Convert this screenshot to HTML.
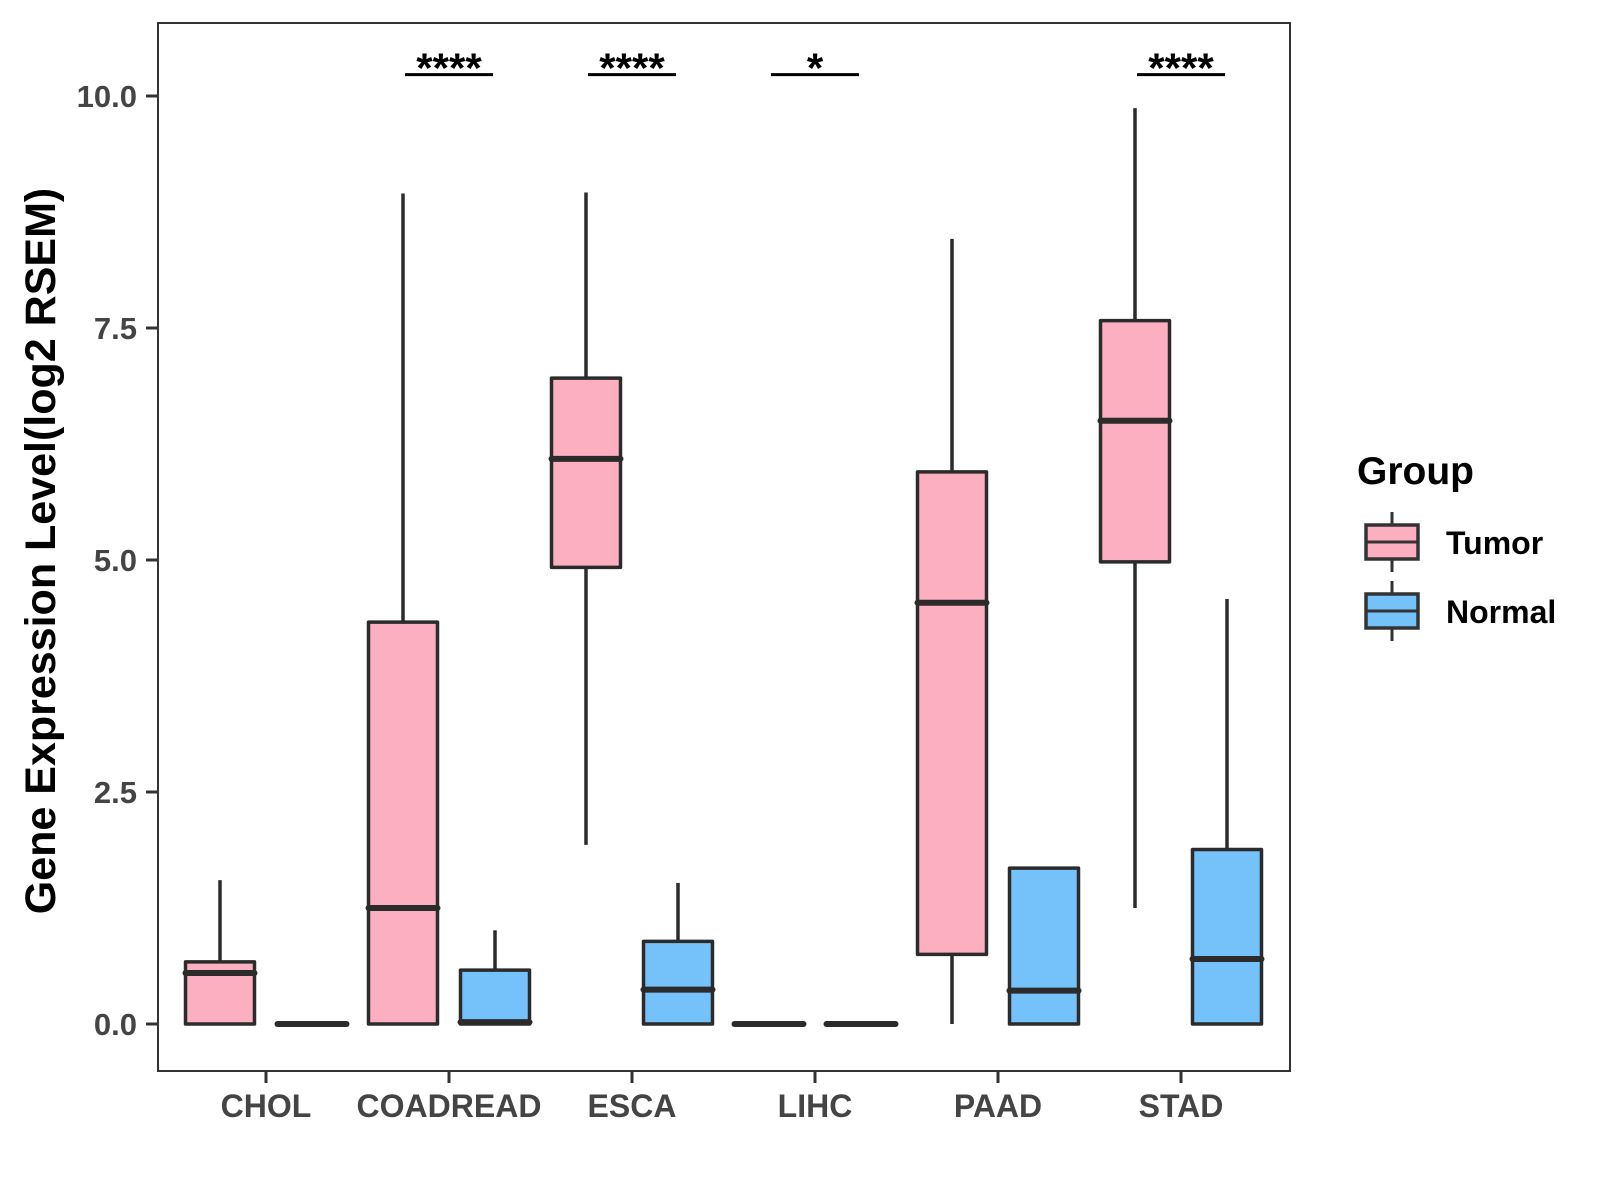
<!DOCTYPE html>
<html><head><meta charset="utf-8"><style>
body{margin:0;background:#fff}
svg{display:block;font-family:"Liberation Sans",Arial,sans-serif}
</style></head><body>
<svg id="chart" width="1600" height="1200" viewBox="0 0 1600 1200">
<rect x="158" y="23" width="1132" height="1048" fill="#fff" stroke="#333" stroke-width="2"/>
<g id="marks"></g>
<text transform="translate(55,551) rotate(-90)" text-anchor="middle" font-size="43" font-weight="bold" fill="#000">Gene Expression Level(log2 RSEM)</text>
<g>
<text x="1357" y="484" font-size="39" font-weight="bold" fill="#000">Group</text>
<g>
<line x1="1392" y1="512" x2="1392" y2="572" stroke="#333" stroke-width="3"/>
<rect x="1366" y="525" width="52" height="34" fill="#fcafc0" stroke="#333" stroke-width="3.5"/>
<line x1="1366" y1="542" x2="1418" y2="542" stroke="#333" stroke-width="3"/>
<text x="1446" y="554" font-size="32" font-weight="bold" fill="#000">Tumor</text>
</g>
<g>
<line x1="1392" y1="581" x2="1392" y2="641" stroke="#333" stroke-width="3"/>
<rect x="1366" y="594" width="52" height="34" fill="#75c1f9" stroke="#333" stroke-width="3.5"/>
<line x1="1366" y1="611" x2="1418" y2="611" stroke="#333" stroke-width="3"/>
<text x="1446" y="623" font-size="32" font-weight="bold" fill="#000">Normal</text>
</g>
</g>
</svg>
<script>
const categories=["CHOL","COADREAD","ESCA","LIHC","PAAD","STAD"];
// [min,q1,median,q3,max]
const tumorStats=[[0,0,0.55,0.67,1.55],[0,0,1.25,4.33,8.95],[1.93,4.92,6.09,6.96,8.96],[0,0,0,0,0],[0,0.75,4.54,5.95,8.46],[1.25,4.98,6.5,7.58,9.87]];
const normalStats=[[0,0,0,0,0],[0,0,0.02,0.58,1.01],[0,0,0.37,0.89,1.52],[0,0,0,0,0],[0,0,0.36,1.68,1.68],[0,0,0.7,1.88,4.58]];
const sigLabels=["","****","****","*","","****"];
const sigLevel=10.23;
const yTicks=[0,2.5,5,7.5,10];
const yTickLabels=["0.0","2.5","5.0","7.5","10.0"];

const NS="http://www.w3.org/2000/svg";
const svg=document.getElementById('chart');
const g=document.getElementById('marks');
function y(v){return 1024-v*92.8;}
function x(i){return 266+i*183;}
function el(t,a,p){const e=document.createElementNS(NS,t);for(const k in a)e.setAttribute(k,a[k]);(p||g).appendChild(e);return e;}

yTicks.forEach((t,i)=>{
  const tk=el('line',{x1:146,x2:158,y1:y(t),y2:y(t),stroke:'#333','stroke-width':3},svg);
  
  
  const lb=el('text',{x:137,y:y(t)+11,'text-anchor':'end','font-size':31,'font-weight':'bold',fill:'#444'},svg);
  lb.textContent=yTickLabels[i];
  
  
});
categories.forEach((c,i)=>{
  const tk=el('line',{x1:x(i),x2:x(i),y1:1071,y2:1083,stroke:'#333','stroke-width':3},svg);
  
  
  const lb=el('text',{x:x(i),y:1117,'text-anchor':'middle','font-size':32,'font-weight':'bold',fill:'#444'},svg);
  lb.textContent=c;
  
  
});
function box(cx,s,fill,name){
  const grp=el('g',{});
  
  
  const w=69;
  el('line',{x1:cx,x2:cx,y1:y(s[4]),y2:y(s[3]),stroke:'#2b2b2b','stroke-width':3.5},grp);
  el('line',{x1:cx,x2:cx,y1:y(s[1]),y2:y(s[0]),stroke:'#2b2b2b','stroke-width':3.5},grp);
  el('rect',{x:cx-w/2,y:y(s[3]),width:w,height:Math.max(y(s[1])-y(s[3]),0.01),fill:fill,stroke:'#2b2b2b','stroke-width':3.5,'stroke-linejoin':'round'},grp);
  el('line',{x1:cx-w/2,x2:cx+w/2,y1:y(s[2]),y2:y(s[2]),stroke:'#2b2b2b','stroke-width':6,'stroke-linecap':'round'},grp);
}
categories.forEach((c,i)=>{
  box(x(i)-46,tumorStats[i],'#fcafc0','box-tumor-'+c.toLowerCase());
  box(x(i)+46,normalStats[i],'#75c1f9','box-normal-'+c.toLowerCase());
  if(sigLabels[i]){
    const ln=el('line',{x1:x(i)-44,x2:x(i)+44,y1:y(sigLevel),y2:y(sigLevel),stroke:'#000','stroke-width':3});
    
    
    const t=el('text',{x:x(i),y:y(sigLevel)+8,'text-anchor':'middle','font-size':42,'font-weight':'bold',fill:'#000'});
    t.textContent=sigLabels[i];
    
    
  }
});
</script>
</body></html>
